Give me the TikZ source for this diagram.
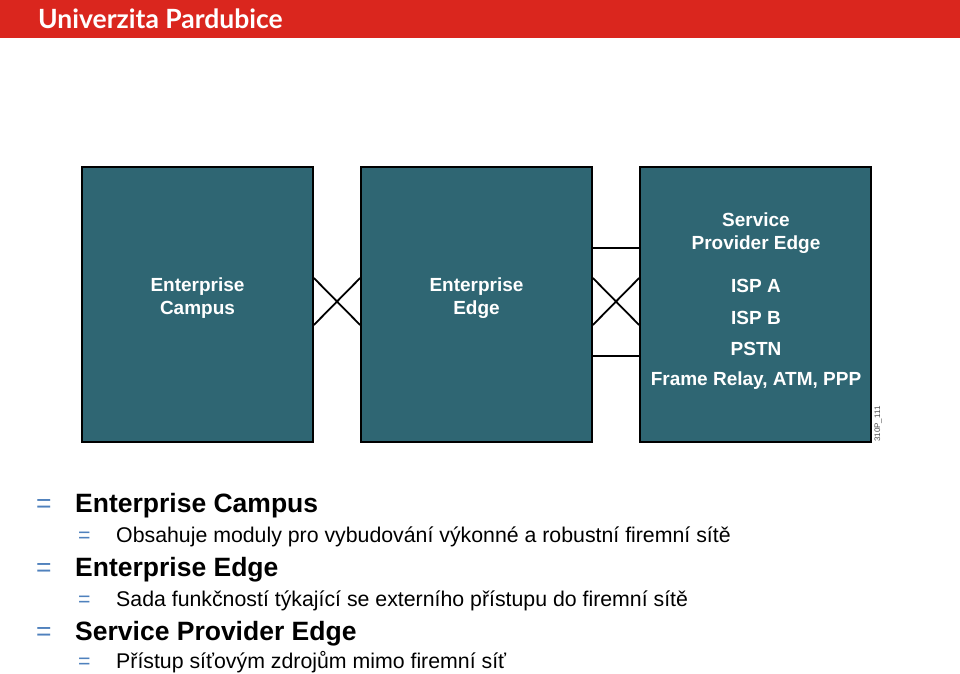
\documentclass[tikz,border=0pt]{standalone}
\usepackage{fontspec}
\setmainfont{Liberation Sans}
\newfontfamily\headfont{Lato}
\definecolor{upred}{RGB}{218,38,30}
\definecolor{modteal}{RGB}{47,102,115}
\definecolor{dotblue}{RGB}{79,129,189}

\tikzset{
  module/.style={draw=black, line width=1.7pt, fill=modteal,
    minimum width=231pt, minimum height=275pt, inner sep=0pt},
  modtext/.style={text=white, align=center, inner sep=0pt,
    font=\bfseries\fontsize{19}{23}\selectfont},
  link/.style={line width=1.8pt},
  dotone/.style={anchor=base west, inner sep=0pt, text=dotblue,
    font=\fontsize{26.5}{30}\selectfont},
  dottwo/.style={anchor=base west, inner sep=0pt, text=dotblue,
    font=\fontsize{21.3}{25}\selectfont},
  lvlone/.style={anchor=base west, inner sep=0pt,
    font=\bfseries\fontsize{26.5}{30}\selectfont},
  lvltwo/.style={anchor=base west, inner sep=0pt,
    font=\fontsize{21.3}{25}\selectfont}
}

\begin{document}
\begin{tikzpicture}[x=1pt, y=-1pt]
  \useasboundingbox (0,0) rectangle (960,673);
  \fill[white] (0,0) rectangle (960,673);

  % header band
  \fill[upred] (0,0) rectangle (960,38);
  \node[anchor=base west, inner sep=0pt, text=white,
    font=\headfont\bfseries\fontsize{26.5}{30}\selectfont] (uni) at (38,28) {Univerzita Pardubice};

  % modules
  \node[module] (campus) at (197.5,304.5) {};
  \node[module] (edge) at (476.5,304.5) {};
  \node[module] (sp) at (755.5,304.5) {};

  \node[modtext] (campustext) at (197.5,298.5) {Enterprise\\Campus};
  \node[modtext] (edgetext) at (476.5,298.5) {Enterprise\\Edge};
  \node[modtext] (sptext) at (756,233.5) {Service\\Provider Edge};
  \node[modtext] (ispa) at (756,286) {ISP A};
  \node[modtext] (ispb) at (756,317.5) {ISP B};
  \node[modtext] (pstn) at (756,349) {PSTN};
  \node[modtext] (wan) at (756,381) {Frame Relay, ATM, PPP};

  \node[rotate=90, anchor=west, inner sep=0pt, text=black!70,
    font=\fontsize{8}{9}\selectfont] (code) at (878,442) {310P\_111};

  % links
  \draw[link] ([yshift=26.5pt]campus.east) -- ([yshift=-20.5pt]edge.west);
  \draw[link] ([yshift=-20.5pt]campus.east) -- ([yshift=26.5pt]edge.west);
  \draw[link] ([yshift=26.5pt]edge.east) -- ([yshift=-20.5pt]sp.west);
  \draw[link] ([yshift=-20.5pt]edge.east) -- ([yshift=26.5pt]sp.west);
  \draw[link] ([yshift=56.5pt]edge.east) -- ([yshift=56.5pt]sp.west);
  \draw[link] ([yshift=-51.5pt]edge.east) -- ([yshift=-51.5pt]sp.west);

  % bullets
  \node[dotone] (d1) at (36,512) {=};
  \node[lvlone] (t1) at (75,512) {Enterprise Campus};
  \node[dottwo] (d2) at (78,542.5) {=};
  \node[lvltwo] (t2) at (116,542.5) {Obsahuje moduly pro vybudování výkonné a robustní firemní sítě};
  \node[dotone] (d3) at (36,576) {=};
  \node[lvlone] (t3) at (75,576) {Enterprise Edge};
  \node[dottwo] (d4) at (78,606.5) {=};
  \node[lvltwo] (t4) at (116,606.5) {Sada funkčností týkající se externího přístupu do firemní sítě};
  \node[dotone] (d5) at (36,640) {=};
  \node[lvlone] (t5) at (75,640) {Service Provider Edge};
  \node[dottwo] (d6) at (78,668.5) {=};
  \node[lvltwo] (t6) at (116,668.5) {Přístup síťovým zdrojům mimo firemní síť};
\end{tikzpicture}
\end{document}
